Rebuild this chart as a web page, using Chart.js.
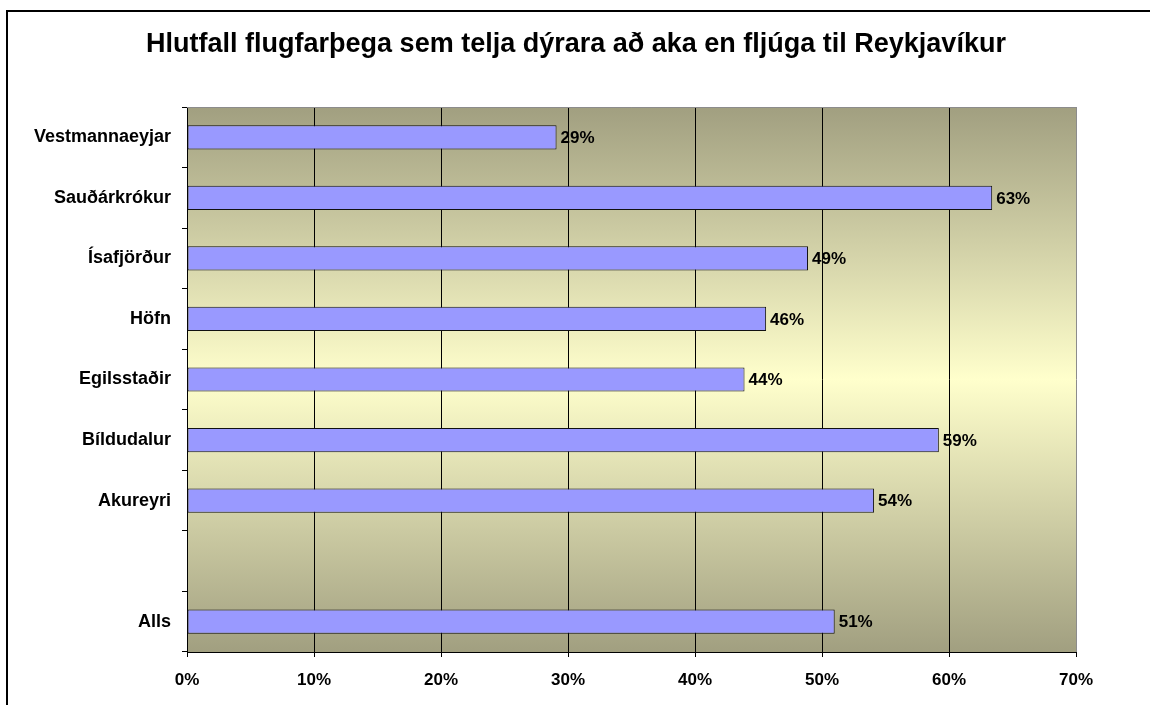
<!DOCTYPE html>
<html>
<head>
<meta charset="utf-8">
<script src="https://cdn.jsdelivr.net/npm/chart.js@4/dist/chart.umd.min.js"></script>
<style>
  html, body { margin: 0; padding: 0; background: #fff; }
  #wrap { width: 1150px; height: 705px; }
</style>
</head>
<body>
<div id="wrap"><canvas id="flugChart" width="1150" height="705"></canvas></div>
<script>
const chartTitle = 'Hlutfall flugfarþega sem telja dýrara að aka en fljúga til Reykjavíkur';
const places = ['Vestmannaeyjar', 'Sauðárkrókur', 'Ísafjörður', 'Höfn', 'Egilsstaðir', 'Bíldudalur', 'Akureyri', '', 'Alls'];
const shares = [29.1, 63.4, 48.9, 45.6, 43.9, 59.2, 54.1, null, 51.0];
const xTicks = [0, 10, 20, 30, 40, 50, 60, 70];

const font = 'Liberation Sans, Arial, sans-serif';

// white page, black frame at top/left, title and the plot background
const frame = {
  id: 'frame',
  beforeDraw(chart) {
    const c = chart.ctx;
    const a = chart.chartArea;
    c.save();
    c.fillStyle = '#fff';
    c.fillRect(0, 0, chart.width, chart.height);
    c.fillStyle = '#000';
    c.fillRect(6, 10, chart.width - 6, 2);
    c.fillRect(6, 10, 2, chart.height - 10);
    c.font = 'bold 27px ' + font;
    c.textAlign = 'center';
    c.textBaseline = 'middle';
    c.fillText(chartTitle, 576, 45);
    // khaki -> pale yellow -> khaki
    const g = c.createLinearGradient(0, a.top, 0, a.bottom);
    g.addColorStop(0, '#a19f80');
    g.addColorStop(0.5, '#ffffcc');
    g.addColorStop(1, '#a19f80');
    c.fillStyle = g;
    c.fillRect(a.left, a.top, a.right - a.left, a.bottom - a.top);
    c.restore();
  },
  afterDraw(chart) {
    const c = chart.ctx;
    const a = chart.chartArea;
    c.save();
    c.strokeStyle = '#8c8c8c';
    c.lineWidth = 1;
    c.beginPath();
    c.moveTo(a.left, a.top + 0.5);
    c.lineTo(a.right, a.top + 0.5);
    c.stroke();
    c.restore();
  }
};

const valueLabels = {
  id: 'valueLabels',
  afterDatasetsDraw(chart) {
    const c = chart.ctx;
    c.save();
    c.font = 'bold 17px ' + font;
    c.fillStyle = '#000';
    c.textAlign = 'left';
    c.textBaseline = 'middle';
    chart.getDatasetMeta(0).data.forEach((bar, i) => {
      if (shares[i] == null) return;
      c.fillText(Math.round(shares[i]) + '%', bar.x + 4, bar.y + 1);
    });
    c.restore();
  }
};

new Chart(document.getElementById('flugChart'), {
  type: 'bar',
  data: {
    labels: places,
    datasets: [{
      data: shares,
      backgroundColor: '#9999ff',
      borderColor: '#111',
      borderWidth: 1,
      borderSkipped: false,
      barPercentage: 0.4,
      categoryPercentage: 1
    }]
  },
  options: {
    indexAxis: 'y',
    responsive: false,
    animation: false,
    layout: { padding: { top: 107, left: 0, right: 74, bottom: 0 } },
    plugins: {
      legend: { display: false },
      tooltip: { enabled: false },
      title: { display: false }
    },
    scales: {
      x: {
        min: 0,
        max: 70,
        afterBuildTicks: s => { s.ticks = xTicks.map(v => ({ value: v })); },
        afterFit: s => { s.height = 53; },
        ticks: {
          color: '#000',
          padding: 13,
          font: { family: font, size: 17, weight: 'bold' },
          callback: v => v + '%'
        },
        grid: {
          color: ctx => (ctx.index === 7 ? '#8c8c8c' : '#000'),
          tickLength: 5,
          tickColor: '#000'
        },
        border: { color: '#000', width: 1 }
      },
      y: {
        afterFit: s => { s.width = 187; },
        ticks: {
          color: '#000',
          padding: 11,
          font: { family: font, size: 18, weight: 'bold' }
        },
        grid: {
          drawOnChartArea: false,
          tickLength: 5,
          color: '#000'
        },
        border: { color: '#000', width: 1 }
      }
    }
  },
  plugins: [frame, valueLabels]
});
</script>
</body>
</html>
